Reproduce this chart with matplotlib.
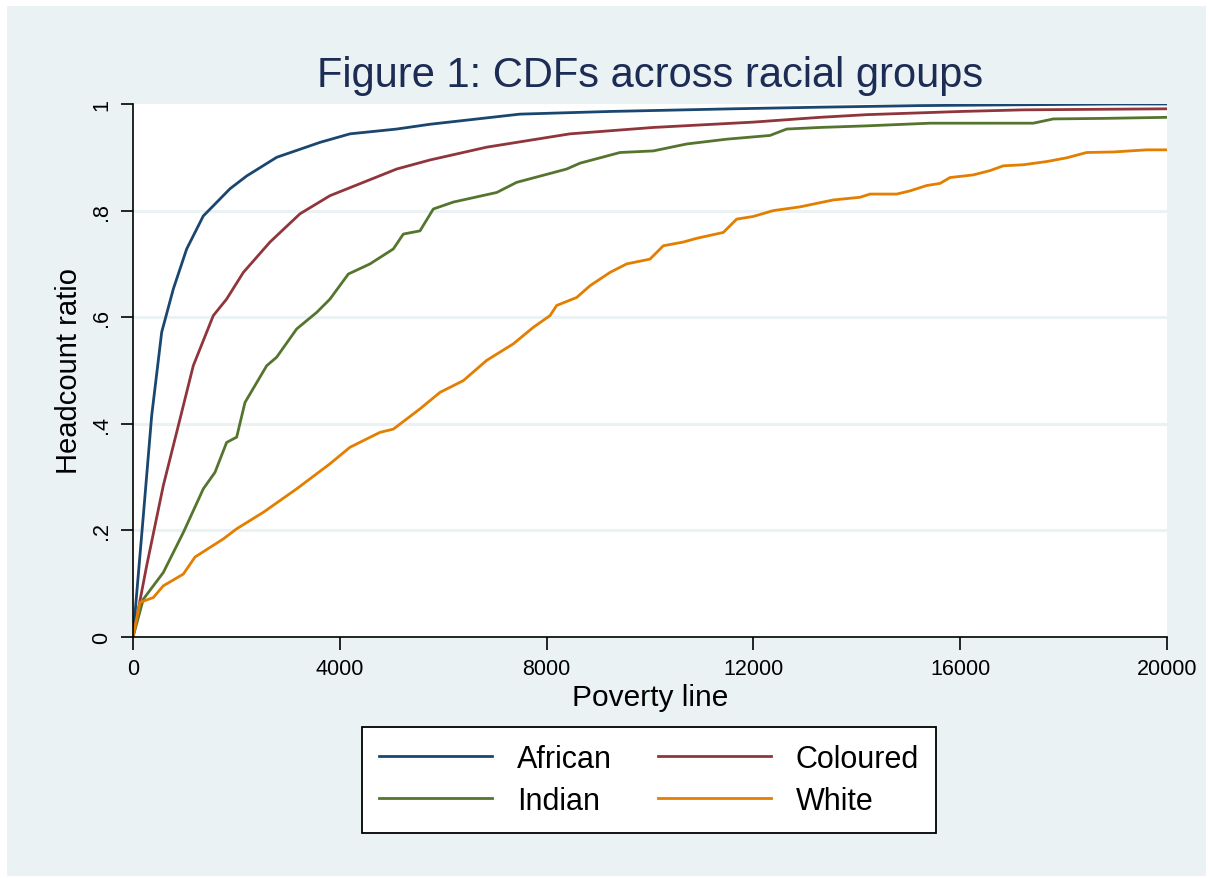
import matplotlib
matplotlib.use("Agg")
from matplotlib import pyplot as plt
from matplotlib.patches import Rectangle

plt.rcParams['font.family'] = ['Liberation Sans', 'DejaVu Sans']

# values (poverty line, headcount ratio)
african_x = [0, 200, 361, 555, 780, 1038, 1360, 1553, 1876, 2199, 2779, 3617, 4197,
             5100, 5745, 7485, 9226, 11611, 13288, 15222, 18994, 20000]
african_y = [0, 0.228, 0.415, 0.572, 0.653, 0.728, 0.790, 0.809, 0.841, 0.865, 0.900,
             0.928, 0.944, 0.953, 0.962, 0.981, 0.986, 0.991, 0.994, 0.997, 1.0, 1.0]

coloured_x = [0, 265, 586, 909, 1166, 1553, 1811, 2134, 2650, 3230, 3810, 4455, 5100,
              5745, 6841, 8452, 10064, 11998, 13288, 14191, 16015, 17215, 20000]
coloured_y = [0, 0.134, 0.284, 0.409, 0.509, 0.603, 0.634, 0.684, 0.741, 0.794, 0.828,
              0.853, 0.878, 0.895, 0.919, 0.944, 0.956, 0.966, 0.975, 0.980, 0.986,
              0.989, 0.991]

indian_x = [0, 200, 586, 973, 1360, 1586, 1811, 2005, 2166, 2586, 2779, 3166, 3553,
            3810, 4165, 4584, 5035, 5229, 5551, 5809, 6196, 7035, 7421, 8388, 8646,
            9420, 10064, 10710, 11483, 12321, 12644, 13288, 14191, 15416, 17414,
            17801, 18768, 20000]
indian_y = [0, 0.071, 0.121, 0.196, 0.278, 0.309, 0.365, 0.375, 0.440, 0.509, 0.525,
            0.578, 0.609, 0.634, 0.681, 0.700, 0.728, 0.756, 0.762, 0.803, 0.816,
            0.834, 0.853, 0.878, 0.889, 0.909, 0.912, 0.925, 0.934, 0.941, 0.953,
            0.956, 0.959, 0.964, 0.964, 0.972, 0.973, 0.975]

white_x = [0, 135, 393, 586, 973, 1199, 1747, 2005, 2521, 3166, 3810, 4197, 4778,
           5035, 5293, 5551, 5938, 6389, 6841, 7356, 7743, 8066, 8195, 8582, 8839,
           9226, 9549, 10000, 10257, 10644, 10903, 11418, 11676, 11998, 12385, 12901,
           13546, 14062, 14255, 14771, 15029, 15351, 15609, 15803, 16253, 16576,
           16833, 17221, 17672, 18059, 18446, 18962, 19607, 20000]
white_y = [0, 0.065, 0.074, 0.096, 0.118, 0.150, 0.184, 0.203, 0.234, 0.278, 0.325,
           0.356, 0.384, 0.390, 0.409, 0.428, 0.459, 0.481, 0.519, 0.550, 0.581,
           0.603, 0.622, 0.637, 0.659, 0.684, 0.700, 0.709, 0.734, 0.741, 0.748,
           0.759, 0.784, 0.789, 0.800, 0.807, 0.820, 0.825, 0.831, 0.831, 0.837,
           0.847, 0.851, 0.862, 0.867, 0.875, 0.884, 0.886, 0.892, 0.899, 0.909,
           0.910, 0.914, 0.914]

x_ticks = [0, 4000, 8000, 12000, 16000, 20000]
y_ticks = [0, 0.2, 0.4, 0.6, 0.8, 1]
y_labels = ['0', '.2', '.4', '.6', '.8', '1']

bg = '#eaf2f3'

fig = plt.figure(figsize=(12.09, 8.79), dpi=100, facecolor='white')
fig.patches.append(Rectangle((7 / 1209, 2 / 879), 1199 / 1209, 870 / 879,
                             transform=fig.transFigure, facecolor=bg,
                             edgecolor='none', zorder=-5))

ax = fig.add_axes([133 / 1209, 1 - 638 / 879, 1034 / 1209, 533 / 879])
ax.set_facecolor('white')

l_af, = ax.plot(african_x, african_y, color='#1a476f', lw=2, label='African')
l_co, = ax.plot(coloured_x, coloured_y, color='#90353b', lw=2, label='Coloured')
l_in, = ax.plot(indian_x, indian_y, color='#55752f', lw=2, label='Indian')
l_wh, = ax.plot(white_x, white_y, color='#e37e00', lw=2, label='White')

ax.set_xlim(0, 20000)
ax.set_ylim(0, 1)
ax.set_xticks(x_ticks)
ax.set_yticks(y_ticks)
ax.set_yticklabels(y_labels, rotation=90, va='center')
ax.tick_params(axis='both', length=9, width=1.2, labelsize=15.5, pad=6)
for gy in y_ticks[1:-1]:
    ax.axhline(gy, color=bg, lw=2.2, zorder=0.5)

for s in ['top', 'right']:
    ax.spines[s].set_visible(False)
for s in ['left', 'bottom']:
    ax.spines[s].set_linewidth(1.2)

ax.set_xlabel('Poverty line', fontsize=21.5, labelpad=3)
ax.set_ylabel('Headcount ratio', fontsize=21, labelpad=6)
fig.text(650 / 1209, 1 - 76 / 879, 'Figure 1: CDFs across racial groups',
         ha='center', va='center', fontsize=30, color='#1c2c54')

leg = fig.legend([l_af, l_in, l_co, l_wh], ['African', 'Indian', 'Coloured', 'White'],
                 loc='center', bbox_to_anchor=(649 / 1209, 1 - 781 / 879), ncol=2,
                 fontsize=22, frameon=True, fancybox=False, edgecolor='black',
                 facecolor='white', framealpha=1,
                 handlelength=3.7, handletextpad=0.82, columnspacing=1.5,
                 labelspacing=0.4, borderpad=0.55)
leg.get_frame().set_linewidth(1.3)

fig.savefig('out.png', dpi=100, facecolor='white')
